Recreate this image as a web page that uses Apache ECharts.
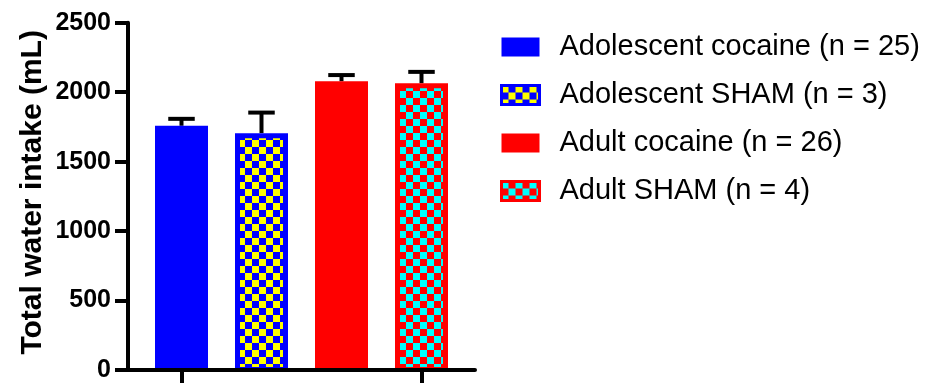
<!DOCTYPE html>
<html>
<head>
<meta charset="utf-8">
<script src="https://cdn.jsdelivr.net/npm/echarts@6/dist/echarts.min.js"></script>
<style>
html,body{margin:0;padding:0;background:#fff;}
#chart{width:925px;height:383px;}
</style>
</head>
<body>
<div id="chart"></div>
<script>
// ---- data ----
const categories = ['Adolescent cocaine (n = 25)', 'Adolescent SHAM (n = 3)', 'Adult cocaine (n = 26)', 'Adult SHAM (n = 4)'];
const means = [1758, 1705, 2078, 2064];
const sems = [50, 148, 45, 82];
const yMin = 0, yMax = 2500, yInterval = 500;
const yTitle = 'Total water intake (mL)';

// ---- styles ----
const FONT = 'Arial, "Liberation Sans", Helvetica, sans-serif';
const baseColors = ['#0000ff', '#0000ff', '#ff0000', '#ff0000'];
const checkColors = [null, '#ffff00', null, '#00ffff'];

function checker(bg, fg, cell) {
  const c = document.createElement('canvas');
  c.width = c.height = cell * 2;
  const ctx = c.getContext('2d');
  ctx.fillStyle = bg; ctx.fillRect(0, 0, cell * 2, cell * 2);
  ctx.fillStyle = fg;
  ctx.fillRect(0, 0, cell, cell);
  ctx.fillRect(cell, cell, cell, cell);
  return { image: c, repeat: 'repeat' };
}
const patterns = baseColors.map((b, i) => checkColors[i] ? checker(b, checkColors[i], 7) : null);

const BAR_FRAC = 53 / 80;
const BORDER = 5;

function makeRender(idx) {
  return function (params, api) {
    const x = api.value(0), m = api.value(1), e = api.value(2);
    const top = api.coord([x, m]);
    const base = api.coord([x, 0]);
    const up = api.coord([x, m + e]);
    const band = api.size([1, 0])[0];
    const w = band * BAR_FRAC;
    const capW = w * 0.5;
    const children = [
      { type: 'line', shape: { x1: top[0], y1: top[1], x2: up[0], y2: up[1] }, style: { stroke: '#000', lineWidth: 4 } },
      { type: 'line', shape: { x1: up[0] - capW / 2, y1: up[1], x2: up[0] + capW / 2, y2: up[1] }, style: { stroke: '#000', lineWidth: 4 } },
      { type: 'rect', shape: { x: top[0] - w / 2, y: top[1], width: w, height: base[1] - top[1] }, style: { fill: baseColors[idx] } }
    ];
    if (patterns[idx]) {
      children.push({ type: 'rect', shape: { x: top[0] - w / 2 + BORDER, y: top[1] + BORDER, width: w - 2 * BORDER, height: base[1] - top[1] - BORDER - 3 }, style: { fill: patterns[idx] } });
    }
    return { type: 'group', children };
  };
}

const series = categories.map((name, i) => ({
  name,
  type: 'custom',
  xAxisIndex: 0,
  yAxisIndex: 0,
  z: 2,
  itemStyle: { color: baseColors[i] },
  renderItem: makeRender(i),
  encode: { x: 0, y: 1 },
  data: [[i, means[i], sems[i]]]
}));

const chart = echarts.init(document.getElementById('chart'), null, { renderer: 'canvas' });
chart.setOption({
  backgroundColor: '#fff',
  animation: false,
  grid: [
    { left: 141.5, width: 320, top: 22.7, height: 347.3 },
    { left: 128, width: 347, top: 22.7, height: 347.3 }
  ],
  xAxis: [
    {
      type: 'category', gridIndex: 0, data: categories,
      axisLine: { show: false },
      axisTick: { show: true, alignWithLabel: true, length: 14, lineStyle: { color: '#000', width: 4 } },
      axisLabel: { show: false },
      splitLine: { show: false }
    },
    {
      type: 'value', gridIndex: 1, min: 0, max: 1, z: 10,
      axisLine: { show: true, onZero: false, lineStyle: { color: '#000', width: 4 } },
      axisTick: { show: false }, axisLabel: { show: false }, splitLine: { show: false }
    }
  ],
  yAxis: [
    { type: 'value', gridIndex: 0, min: yMin, max: yMax, interval: yInterval, show: false },
    {
      type: 'value', gridIndex: 1, min: yMin, max: yMax, interval: yInterval, z: 10,
      name: yTitle, nameLocation: 'middle', nameRotate: 90, nameGap: 80,
      nameTextStyle: { fontFamily: FONT, fontSize: 30, fontWeight: 'bold', color: '#000', padding: [0, 0, 0, 8] },
      axisLine: { show: true, lineStyle: { color: '#000', width: 4 } },
      axisTick: { show: true, length: 13, lineStyle: { color: '#000', width: 4 } },
      axisLabel: { fontFamily: FONT, fontSize: 25, fontWeight: 'bold', color: '#000', margin: 17, formatter: v => String(v) },
      splitLine: { show: false }
    }
  ],
  legend: {
    orient: 'vertical', left: 500, top: 32.5, padding: 0,
    icon: 'rect', itemWidth: 38, itemHeight: 19, itemGap: 19,
    textStyle: { fontFamily: FONT, fontSize: 29, color: '#000', padding: [0, 0, 0, 15] },
    data: categories.map((name, i) => ({
      name,
      itemStyle: patterns[i] ? { color: patterns[i], borderColor: baseColors[i], borderWidth: 3 } : { color: baseColors[i] }
    }))
  },
  series
});
</script>
</body>
</html>
